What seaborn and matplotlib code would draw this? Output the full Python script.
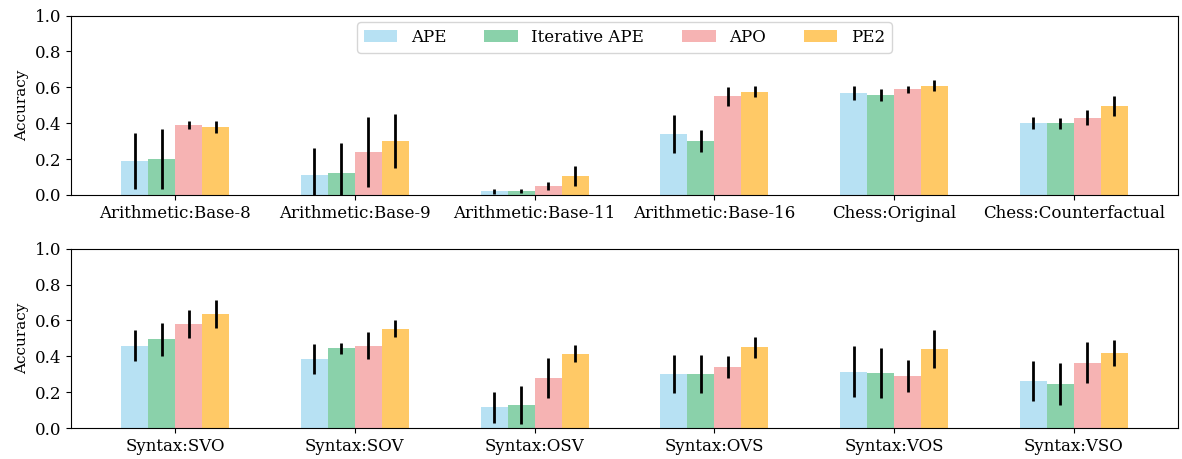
import matplotlib
matplotlib.use('Agg')
import matplotlib.pyplot as plt
import seaborn as sns
import pandas as pd

plt.rcParams['font.family'] = ['DejaVu Serif']

methods = ['APE', 'Iterative APE', 'APO', 'PE2']
colors = ['#b7e1f3', '#8ad1aa', '#f6b3b3', '#ffc966']

# top panel
top_tasks = ['Arithmetic:Base-8', 'Arithmetic:Base-9', 'Arithmetic:Base-11',
             'Arithmetic:Base-16', 'Chess:Original', 'Chess:Counterfactual']
top_ape = [0.19, 0.11, 0.02, 0.34, 0.57, 0.40]
top_ape_err = [0.155, 0.15, 0.014, 0.105, 0.04, 0.034]
top_iter = [0.20, 0.12, 0.02, 0.30, 0.555, 0.40]
top_iter_err = [0.166, 0.17, 0.011, 0.06, 0.033, 0.03]
top_apo = [0.39, 0.24, 0.05, 0.55, 0.59, 0.43]
top_apo_err = [0.025, 0.196, 0.02, 0.053, 0.02, 0.041]
top_pe2 = [0.38, 0.30, 0.105, 0.575, 0.61, 0.495]
top_pe2_err = [0.035, 0.152, 0.055, 0.031, 0.03, 0.055]

# bottom panel
bot_tasks = ['Syntax:SVO', 'Syntax:SOV', 'Syntax:OSV',
             'Syntax:OVS', 'Syntax:VOS', 'Syntax:VSO']
bot_ape = [0.46, 0.385, 0.115, 0.30, 0.315, 0.26]
bot_ape_err = [0.086, 0.082, 0.088, 0.106, 0.143, 0.112]
bot_iter = [0.495, 0.445, 0.13, 0.30, 0.305, 0.245]
bot_iter_err = [0.092, 0.031, 0.107, 0.106, 0.14, 0.116]
bot_apo = [0.58, 0.46, 0.28, 0.34, 0.29, 0.365]
bot_apo_err = [0.079, 0.074, 0.111, 0.059, 0.09, 0.114]
bot_pe2 = [0.635, 0.555, 0.415, 0.45, 0.44, 0.42]
bot_pe2_err = [0.077, 0.048, 0.047, 0.059, 0.104, 0.073]


def make_frame(tasks, vals, errs):
    rows = []
    for m, v, e in zip(methods, vals, errs):
        for t, a, b in zip(tasks, v, e):
            rows.append({'Task': t, 'Method': m, 'Accuracy': a, 'Err': b})
    return pd.DataFrame(rows)


def draw_panel(ax, df, tasks, show_legend):
    sns.barplot(data=df, x='Task', y='Accuracy', hue='Method', order=tasks,
                hue_order=methods, palette=colors, width=0.6, saturation=1,
                errorbar=None, legend=show_legend, ax=ax)
    # error bars at the centres of the bars seaborn drew
    for container, m in zip(ax.containers, methods):
        sub = df[df['Method'] == m].set_index('Task')
        for bar in container:
            cx = bar.get_x() + bar.get_width() / 2
            t = tasks[int(round(cx))]
            ax.errorbar(cx, sub.loc[t, 'Accuracy'], yerr=sub.loc[t, 'Err'],
                        fmt='none', ecolor='black', elinewidth=2, capsize=0)
    ax.set_ylim(0, 1.0)
    ax.set_xlim(-0.58, 5.58)
    ax.set_xlabel('')
    ax.set_ylabel('Accuracy', fontsize=11)
    ax.tick_params(axis='both', labelsize=12)
    if show_legend:
        sns.move_legend(ax, 'upper center', ncol=4, title=None, fontsize=12,
                        columnspacing=2.3, borderaxespad=0.4)


fig, axes = plt.subplots(2, 1, figsize=(11.82, 4.59), dpi=100)
draw_panel(axes[0], make_frame(top_tasks,
                               [top_ape, top_iter, top_apo, top_pe2],
                               [top_ape_err, top_iter_err, top_apo_err, top_pe2_err]),
           top_tasks, True)
draw_panel(axes[1], make_frame(bot_tasks,
                               [bot_ape, bot_iter, bot_apo, bot_pe2],
                               [bot_ape_err, bot_iter_err, bot_apo_err, bot_pe2_err]),
           bot_tasks, False)

fig.subplots_adjust(left=0.060, right=0.9966, top=0.966, bottom=0.0675, hspace=0.3)
fig.savefig('out.png', dpi=100)
plt.close(fig)
